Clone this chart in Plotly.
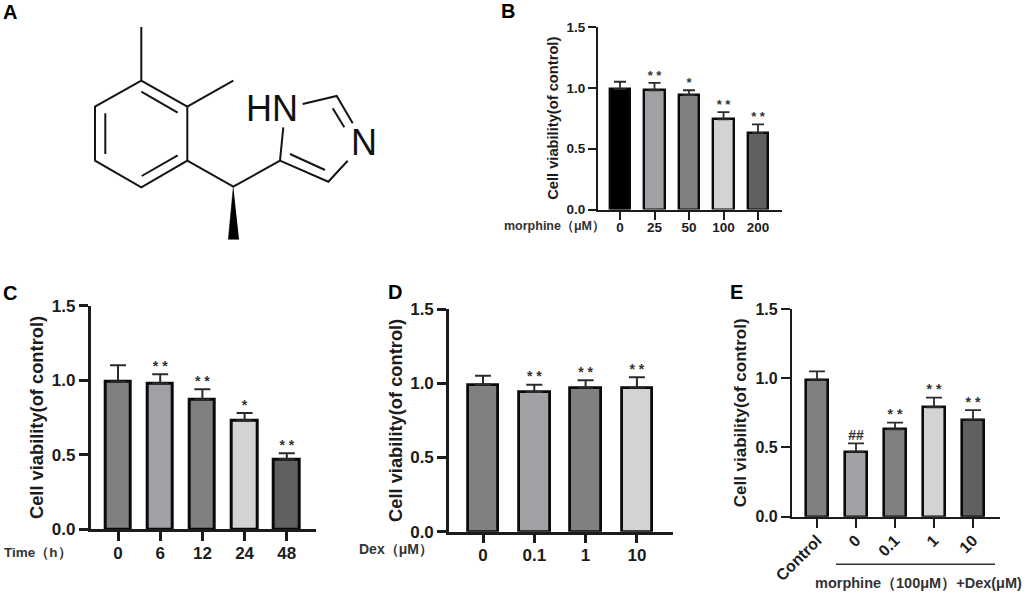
import plotly.graph_objects as go

W, H = 1024, 594
FONT = "Liberation Sans"
INK = "#1c1c1c"

# ---- data ----
b_categories = ["0", "25", "50", "100", "200"]
b_values = [1.00, 0.99, 0.95, 0.75, 0.64]
b_error_tops = [1.05, 1.04, 0.98, 0.80, 0.70]
b_marks = ["", "* *", "*", "* *", "* *"]
b_colors = ["#000000", "#a0a0a5", "#808080", "#d3d3d3", "#606060"]

c_categories = ["0", "6", "12", "24", "48"]
c_values = [1.00, 0.99, 0.88, 0.74, 0.48]
c_error_tops = [1.10, 1.04, 0.94, 0.78, 0.51]
c_marks = ["", "* *", "* *", "*", "* *"]
c_colors = ["#808080", "#a0a0a5", "#808080", "#d3d3d3", "#606060"]

d_categories = ["0", "0.1", "1", "10"]
d_values = [1.00, 0.95, 0.98, 0.98]
d_error_tops = [1.05, 0.99, 1.02, 1.04]
d_marks = ["", "* *", "* *", "* *"]
d_colors = ["#808080", "#a0a0a5", "#808080", "#d3d3d3"]

e_categories = ["Control", "0", "0.1", "1", "10"]
e_values = [1.00, 0.48, 0.64, 0.80, 0.71]
e_error_tops = [1.05, 0.53, 0.68, 0.86, 0.77]
e_marks = ["", "##", "* *", "* *", "* *"]
e_colors = ["#808080", "#a0a0a5", "#808080", "#d3d3d3", "#606060"]

y_ticks = [0.0, 0.5, 1.0, 1.5]
y_title = "Cell viability(of control)"

# ---- panel A: structural formula skeleton (image pixel space) ----
bond_paths = [
    [(141.3, 27), (141.3, 80.7), (187.3, 106.7), (187.3, 160.7), (141.3, 187.3),
     (95, 160.7), (95, 106.7), (141.3, 80.7)],
    [(187.3, 106.7), (233.3, 80.7)],
    [(141.3, 91.7), (177.7, 112.7)],
    [(105.3, 113.3), (105.3, 154)],
    [(141.7, 176), (177.7, 155.3)],
    [(187.3, 160.7), (233.3, 186.7), (280, 160.7), (283.3, 127.3)],
    [(302.7, 104), (336.7, 96), (352.7, 123.3)],
    [(332.7, 108.3), (344.3, 127.3)],
    [(347.7, 160.7), (328.3, 181.7), (280, 160.7)],
    [(290, 154), (325, 170)],
]
wedge = [(233.3, 186.7), (228.3, 239.3), (239, 239.3)]

# pixel boxes: axis x, right end, y of 1.5, y of 0, first category, spacing
panels = [
    dict(cats=b_categories, vals=b_values, tops=b_error_tops, marks=b_marks, cols=b_colors,
         x0=598, x1=782, top=27, bot=209.5, c0=620, s=34.5, bw=0.58, lw=2.4, fs=13.5, tfs=14.7,
         ticklen=8, standoff=4, err=1.8, ew=6, star=13, angle=0, tls=-4),
    dict(cats=c_categories, vals=c_values, tops=c_error_tops, marks=c_marks, cols=c_colors,
         x0=90.7, x1=316, top=305.7, bot=529.3, c0=118, s=42.2, bw=0.6, lw=3, fs=17, tfs=18.3,
         ticklen=9, standoff=4, err=2, ew=8, star=14, angle=0, tls=-3),
    dict(cats=d_categories, vals=d_values, tops=d_error_tops, marks=d_marks, cols=d_colors,
         x0=449, x1=672.7, top=309, bot=531.7, c0=483, s=51.3, bw=0.6, lw=2.8, fs=17, tfs=18.3,
         ticklen=9, standoff=3, err=2, ew=8, star=14, angle=0, tls=-3),
    dict(cats=e_categories, vals=e_values, tops=e_error_tops, marks=e_marks, cols=e_colors,
         x0=792, x1=1000, top=309, bot=516.7, c0=817, s=39, bw=0.58, lw=2.6, fs=16, tfs=17,
         ticklen=9, standoff=4, err=1.8, ew=8, star=14, angle=-45, tls=-3),
]

fig = go.Figure()
layout = dict(
    width=W, height=H, autosize=False, showlegend=False,
    margin=dict(l=0, r=0, t=0, b=0, autoexpand=False),
    paper_bgcolor="white", plot_bgcolor="rgba(0,0,0,0)",
    font=dict(family=FONT, color=INK),
    bargap=0,
)

for i, p in enumerate(panels):
    suffix = "" if i == 0 else str(i + 1)
    xn, yn = "x" + suffix, "y" + suffix
    # the reference's outlines sit inside the value, so inset by half a stroke
    inset = (p["lw"] / 2) * 1.5 / (p["bot"] - p["top"])
    heights = [v - inset for v in p["vals"]]
    fig.add_trace(go.Bar(
        x=p["cats"], y=heights, xaxis=xn, yaxis=yn, width=p["bw"],
        customdata=p["vals"], hovertemplate="%{x}: %{customdata}<extra></extra>",
        marker=dict(color=p["cols"], line=dict(color="#0a0a0a", width=p["lw"])),
        error_y=dict(type="data", symmetric=False,
                     array=[t - h for t, h in zip(p["tops"], heights)],
                     arrayminus=[0] * len(heights),
                     color="#2b2b2b", thickness=p["err"], width=p["ew"]),
    ))
    fig.add_trace(go.Scatter(
        x=p["cats"], y=p["tops"], xaxis=xn, yaxis=yn, mode="text",
        text=p["marks"], textposition="top center", cliponaxis=False,
        textfont=dict(family=FONT, size=p["star"], color="#333333", weight="bold"),
    ))
    layout["xaxis" + suffix] = dict(
        domain=[p["x0"] / W, p["x1"] / W], anchor=yn, type="category",
        categoryorder="array", categoryarray=p["cats"],
        range=[(p["x0"] - p["c0"]) / p["s"], (p["x1"] - p["c0"]) / p["s"]],
        showgrid=False, zeroline=False, showline=True, linecolor=INK, linewidth=p["lw"] * 0.9,
        ticks="outside", ticklen=p["ticklen"], tickwidth=p["lw"] * 0.9, tickcolor=INK,
        tickangle=p["angle"], automargin=False, ticklabelstandoff=p["tls"],
        tickfont=dict(family=FONT, size=p["fs"], color=INK, weight="bold"),
    )
    layout["yaxis" + suffix] = dict(
        domain=[1 - p["bot"] / H, 1 - p["top"] / H], anchor=xn, range=[0, 1.5],
        tickvals=y_ticks, tickformat=".1f", automargin=False,
        showgrid=False, zeroline=False, showline=True, linecolor=INK, linewidth=p["lw"] * 0.9,
        ticks="outside", ticklen=p["ticklen"], tickwidth=p["lw"] * 0.9, tickcolor=INK,
        tickfont=dict(family=FONT, size=p["fs"], color=INK, weight="bold"),
        title=dict(text=y_title, standoff=p["standoff"],
                   font=dict(family=FONT, size=p["tfs"], color=INK, weight="bold")),
    )

# molecule on a hidden pixel-space axis pair
bx, by = [], []
for path in bond_paths:
    bx += [pt[0] for pt in path] + [None]
    by += [pt[1] for pt in path] + [None]
fig.add_trace(go.Scatter(x=bx, y=by, xaxis="x5", yaxis="y5", mode="lines",
                         line=dict(color="#151515", width=2), hoverinfo="skip"))
fig.add_trace(go.Scatter(x=[pt[0] for pt in wedge], y=[pt[1] for pt in wedge],
                         xaxis="x5", yaxis="y5", mode="lines", fill="toself",
                         fillcolor="#000000", line=dict(color="#000000", width=0.5), hoverinfo="skip"))
layout["xaxis5"] = dict(domain=[0, 1], range=[0, W], visible=False, anchor="y5")
layout["yaxis5"] = dict(domain=[0, 1], range=[H, 0], visible=False, anchor="x5")


def label(text, px, py, size, anchor="center", bold=True, color=INK):
    return dict(text=text, xref="paper", yref="paper", x=px / W, y=1 - py / H,
                xanchor=anchor, yanchor="middle", showarrow=False,
                font=dict(family=FONT, size=size, color=color, weight="bold" if bold else "normal"))


layout["annotations"] = [
    label("A", 9.5, 12, 20, color="#000000"),
    label("B", 508, 11, 20, color="#000000"),
    label("C", 10, 293, 20, color="#000000"),
    label("D", 395, 292, 20, color="#000000"),
    label("E", 736, 292, 20, color="#000000"),
    label("HN", 271.7, 108, 36, bold=False, color="#111111"),
    label("N", 364, 143, 36, bold=False, color="#111111"),
    label("morphine（μM）", 502, 226, 12.5, anchor="left", color="#333333"),
    label("Time（h）", 2, 552, 13.5, anchor="left", color="#333333"),
    label("Dex（μM）", 357, 549, 14, anchor="left", color="#333333"),
    label("morphine（100μM）+Dex(μM)", 1024, 583, 14.5, anchor="right", color="#333333"),
]
layout["shapes"] = [dict(type="line", xref="paper", yref="paper",
                         x0=836 / W, x1=995 / W, y0=1 - 564.3 / H, y1=1 - 564.3 / H,
                         line=dict(color="#333333", width=1.5))]

fig.update_layout(**layout)
fig.write_html("out.html", config=dict(displayModeBar=False),
               post_script="document.body.style.margin='0';document.body.style.overflow='hidden';")
